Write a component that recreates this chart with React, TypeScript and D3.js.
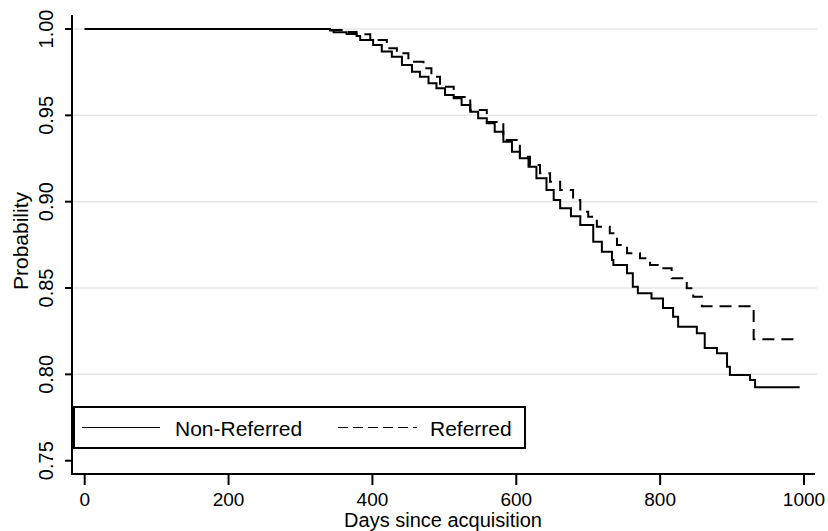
import React, { useEffect, useRef } from "react";
import * as d3 from "d3";

// Kaplan-Meier steps (day, survival after the drop)
const nonRefDays = [0, 341, 346, 364, 378, 383, 401, 413, 427, 441, 455, 466, 478, 489, 501, 513, 524, 536, 547, 559, 570, 582, 594, 605, 617, 628, 642, 652, 661, 676, 689, 707, 719, 733, 735, 754, 762, 769, 788, 804, 818, 825, 851, 862, 879, 893, 897, 925, 932, 994];
const nonRefSurv = [1.0, 0.9992, 0.9981, 0.9971, 0.9959, 0.9936, 0.9907, 0.9869, 0.984, 0.9792, 0.9753, 0.9724, 0.9686, 0.9657, 0.9618, 0.9599, 0.956, 0.9521, 0.9483, 0.9454, 0.9405, 0.9347, 0.9289, 0.9251, 0.9203, 0.9135, 0.9068, 0.901, 0.8962, 0.8915, 0.8865, 0.8768, 0.871, 0.8662, 0.8633, 0.8585, 0.8508, 0.8469, 0.844, 0.8384, 0.8334, 0.8276, 0.8238, 0.8153, 0.8122, 0.8044, 0.7996, 0.7967, 0.7925, 0.7925];

const refDays = [0, 341, 364, 378, 397, 420, 434, 450, 471, 482, 494, 513, 536, 559, 582, 605, 619, 633, 647, 661, 679, 689, 700, 712, 730, 740, 754, 772, 786, 802, 816, 837, 846, 858, 930, 994];
const refSurv = [1.0, 0.9994, 0.9983, 0.9969, 0.9936, 0.9888, 0.9859, 0.9811, 0.9772, 0.9724, 0.9666, 0.9606, 0.9531, 0.9461, 0.9357, 0.926, 0.9212, 0.9164, 0.9116, 0.9068, 0.901, 0.8942, 0.8913, 0.8855, 0.8817, 0.8749, 0.8701, 0.8672, 0.8633, 0.8614, 0.8556, 0.8498, 0.845, 0.8395, 0.8203, 0.8203];

const xTicks = [0, 200, 400, 600, 800, 1000];
const yTicks = [0.75, 0.8, 0.85, 0.9, 0.95, 1.0];
const gridTicks = [0.8, 0.85, 0.9, 0.95, 1.0];
const seriesNames = ["Non-Referred", "Referred"];

const FONT = "'Liberation Sans', Arial, sans-serif";

const App = () => {
  const svgRef = useRef<SVGSVGElement>(null);

  useEffect(() => {
    const width = 828;
    const height = 531;
    const svg = d3.select(svgRef.current);
    svg.selectAll("*").remove();
    svg.attr("width", width).attr("height", height);

    const x = d3.scaleLinear().domain([0, 1000]).range([84.7, 804]);
    const y = d3.scaleLinear().domain([0.75, 1]).range([460.7, 29]);

    const axisX = 72;
    const axisY = 474;

    svg.append("rect").attr("width", width).attr("height", height).attr("fill", "white");

    // grid
    svg
      .selectAll(".grid")
      .data(gridTicks)
      .enter()
      .append("line")
      .attr("x1", axisX)
      .attr("x2", 817)
      .attr("y1", (d) => y(d))
      .attr("y2", (d) => y(d))
      .attr("stroke", "#e6e6e6")
      .attr("stroke-width", 1.5);

    // axis lines
    svg.append("line").attr("x1", axisX).attr("x2", axisX).attr("y1", 15).attr("y2", axisY + 1)
      .attr("stroke", "black").attr("stroke-width", 2);
    svg.append("line").attr("x1", axisX - 1).attr("x2", 815).attr("y1", axisY).attr("y2", axisY)
      .attr("stroke", "black").attr("stroke-width", 2);

    // x ticks
    svg
      .selectAll(".xtick")
      .data(xTicks)
      .enter()
      .append("line")
      .attr("x1", (d) => x(d))
      .attr("x2", (d) => x(d))
      .attr("y1", axisY)
      .attr("y2", axisY + 11)
      .attr("stroke", "black")
      .attr("stroke-width", 2);

    svg
      .selectAll(".xlabel")
      .data(xTicks)
      .enter()
      .append("text")
      .attr("x", (d) => x(d))
      .attr("y", 506)
      .attr("text-anchor", "middle")
      .style("font-family", FONT)
      .style("font-size", "19px")
      .text((d) => d);

    // y ticks
    svg
      .selectAll(".ytick")
      .data(yTicks)
      .enter()
      .append("line")
      .attr("x1", axisX - 7)
      .attr("x2", axisX)
      .attr("y1", (d) => y(d))
      .attr("y2", (d) => y(d))
      .attr("stroke", "black")
      .attr("stroke-width", 2);

    svg
      .selectAll(".ylabel")
      .data(yTicks)
      .enter()
      .append("text")
      .attr("transform", (d) => `translate(53,${y(d)}) rotate(-90)`)
      .attr("text-anchor", "middle")
      .style("font-family", FONT)
      .style("font-size", "20px")
      .text((d) => d3.format(".2f")(d));

    // titles
    svg.append("text")
      .attr("x", 443)
      .attr("y", 527)
      .attr("text-anchor", "middle")
      .style("font-family", FONT)
      .style("font-size", "20px")
      .text("Days since acquisition");

    svg.append("text")
      .attr("transform", "translate(28,241) rotate(-90)")
      .attr("text-anchor", "middle")
      .style("font-family", FONT)
      .style("font-size", "21px")
      .text("Probability");

    // curves
    const line = d3
      .line<[number, number]>()
      .x((d) => x(d[0]))
      .y((d) => y(d[1]))
      .curve(d3.curveStepAfter);

    const nonRef: [number, number][] = nonRefDays.map((d, i) => [d, nonRefSurv[i]]);
    const ref: [number, number][] = refDays.map((d, i) => [d, refSurv[i]]);

    svg.append("path")
      .datum(ref)
      .attr("fill", "none")
      .attr("stroke", "black")
      .attr("stroke-width", 2)
      .attr("stroke-dasharray", "12,7")
      .attr("d", line);

    svg.append("path")
      .datum(nonRef)
      .attr("fill", "none")
      .attr("stroke", "black")
      .attr("stroke-width", 2)
      .attr("d", line);

    // legend
    const lg = svg.append("g");
    lg.append("rect")
      .attr("x", 74)
      .attr("y", 407)
      .attr("width", 451)
      .attr("height", 41)
      .attr("fill", "white")
      .attr("stroke", "black")
      .attr("stroke-width", 2);

    lg.append("line").attr("x1", 82).attr("x2", 160).attr("y1", 427.5).attr("y2", 427.5)
      .attr("stroke", "black").attr("stroke-width", 1);
    lg.append("line").attr("x1", 338).attr("x2", 417).attr("y1", 427.5).attr("y2", 427.5)
      .attr("stroke", "black").attr("stroke-width", 1).attr("stroke-dasharray", "10,5");

    lg.append("text").attr("x", 175).attr("y", 436)
      .style("font-family", FONT).style("font-size", "21px").text(seriesNames[0]);
    lg.append("text").attr("x", 430).attr("y", 436)
      .style("font-family", FONT).style("font-size", "21px").text(seriesNames[1]);
  }, []);

  return <svg ref={svgRef} style={{ position: "absolute", left: 0, top: 0 }}></svg>;
};

export default App;
